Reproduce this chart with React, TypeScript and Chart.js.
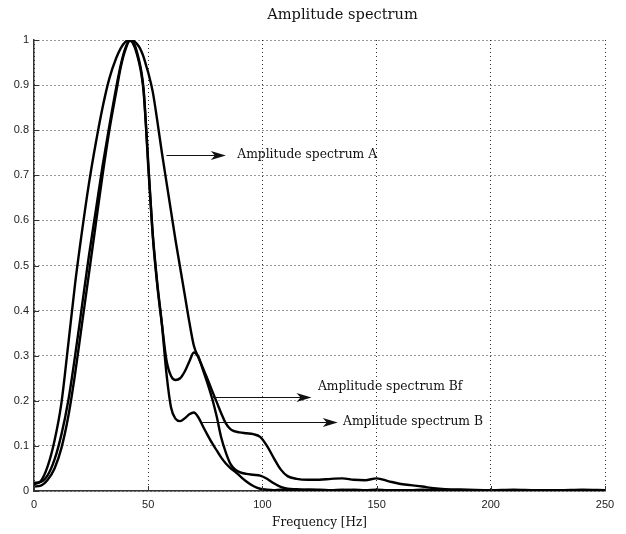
import React, { useEffect, useRef } from 'react';
import { Chart, registerables } from 'chart.js';

Chart.register(...registerables);

// Frequency grid [Hz]
const freq = [
  0, 3, 6, 9, 12, 15, 18, 21, 24, 27, 30, 33, 36,
  38, 40, 42, 44, 46, 47, 48, 49, 50,
  52, 54, 56, 58, 60,
  62, 64, 66, 68, 70, 72, 74, 76, 78, 80, 82, 84, 86, 88, 90,
  93, 96, 99, 102, 105, 108, 111, 115,
  120, 125, 130, 135, 140, 145, 150, 155, 160, 165, 170, 175, 180,
  190, 200, 210, 220, 230, 240, 250,
];

// Amplitude spectrum A
const specA = [
  0.015, 0.022, 0.055, 0.112, 0.195, 0.325, 0.46, 0.575, 0.68, 0.77, 0.85, 0.915, 0.96,
  0.982, 0.996, 1.0, 0.997, 0.985, 0.975, 0.962, 0.945, 0.928,
  0.885, 0.82, 0.75, 0.685, 0.62,
  0.555, 0.495, 0.435, 0.375, 0.322, 0.296, 0.272, 0.248, 0.222, 0.197, 0.172, 0.15, 0.137, 0.132, 0.13,
  0.128, 0.126, 0.12, 0.1, 0.073, 0.048, 0.033, 0.027,
  0.025, 0.025, 0.027, 0.028, 0.025, 0.024, 0.028, 0.022, 0.016, 0.013, 0.01, 0.006, 0.004,
  0.003, 0.002, 0.003, 0.002, 0.002, 0.003, 0.002,
];

// Amplitude spectrum Bf
const specBf = [
  0.018, 0.02, 0.035, 0.07, 0.125, 0.2, 0.3, 0.41, 0.52, 0.62, 0.72, 0.81, 0.895,
  0.945, 0.982, 1.0, 0.985, 0.95, 0.925, 0.885, 0.81, 0.72,
  0.565, 0.455, 0.37, 0.29, 0.255,
  0.246, 0.25, 0.265, 0.287, 0.307, 0.297, 0.268, 0.238, 0.205, 0.165, 0.118, 0.085, 0.06, 0.048, 0.042,
  0.038, 0.036, 0.034, 0.027, 0.017, 0.009, 0.005, 0.004,
  0.003, 0.003, 0.002, 0.003, 0.002, 0.002, 0.003, 0.002, 0.002, 0.002, 0.003, 0.002, 0.002,
  0.002, 0.002, 0.002, 0.002, 0.002, 0.002, 0.002,
];

// Amplitude spectrum B
const specB = [
  0.01, 0.012, 0.025, 0.05, 0.095, 0.165, 0.26, 0.37, 0.48, 0.59, 0.7, 0.8, 0.885,
  0.94, 0.978, 0.998, 0.99, 0.955, 0.93, 0.89, 0.815, 0.73,
  0.57, 0.46, 0.37, 0.26, 0.185,
  0.16, 0.155, 0.161, 0.17, 0.174, 0.163, 0.143, 0.124, 0.106, 0.09, 0.074, 0.061, 0.051, 0.043, 0.034,
  0.021, 0.011, 0.005, 0.003, 0.002, 0.003, 0.002, 0.002,
  0.003, 0.002, 0.002, 0.002, 0.003, 0.002, 0.002, 0.002, 0.002, 0.002, 0.002, 0.002, 0.002,
  0.002, 0.002, 0.002, 0.002, 0.002, 0.002, 0.002,
];

const titleText = 'Amplitude spectrum';
const xTitle = 'Frequency [Hz]';

// Arrow annotations in data coordinates
const annotations = [
  { text: 'Amplitude spectrum A', x0: 58, x1: 84, y: 0.745, tx: 89, ty: 0.745 },
  { text: 'Amplitude spectrum Bf', x0: 78, x1: 121.5, y: 0.209, tx: 124.3, ty: 0.231 },
  { text: 'Amplitude spectrum B', x0: 73.5, x1: 133, y: 0.153, tx: 135.3, ty: 0.153 },
];

const SERIF = '"DejaVu Serif", "Liberation Serif", serif';
const SANS = '"Liberation Sans", Arial, sans-serif';

export default function App() {
  const ref = useRef<HTMLCanvasElement>(null);

  useEffect(() => {
    const canvas = ref.current;
    if (!canvas) return;

    const mk = (label: string, data: number[]) => ({
      label,
      data: freq.map((f, i) => ({ x: f, y: data[i] })),
      borderColor: '#000',
      borderWidth: 2.4,
      pointRadius: 0,
      fill: false,
      cubicInterpolationMode: 'monotone' as const,
    });

    const overlay = {
      id: 'overlay',
      afterDraw(chart: any) {
        const { ctx, chartArea } = chart;
        const xs = chart.scales.x;
        const ys = chart.scales.y;
        ctx.save();
        // inward tick marks
        ctx.strokeStyle = '#333';
        ctx.lineWidth = 1;
        ctx.beginPath();
        ys.ticks.forEach((t: any) => {
          const py = Math.round(ys.getPixelForValue(t.value)) + 0.5;
          ctx.moveTo(chartArea.left, py);
          ctx.lineTo(chartArea.left + 5, py);
        });
        xs.ticks.forEach((t: any) => {
          const px = Math.round(xs.getPixelForValue(t.value)) + 0.5;
          ctx.moveTo(px, chartArea.bottom);
          ctx.lineTo(px, chartArea.bottom - 5);
        });
        ctx.stroke();

        // title
        ctx.fillStyle = '#111';
        ctx.font = '14.6px ' + SERIF;
        ctx.textAlign = 'center';
        ctx.textBaseline = 'middle';
        ctx.fillText(titleText, (chartArea.left + chartArea.right) / 2 + 23, 15);

        // annotations
        ctx.font = '12.3px ' + SERIF;
        ctx.textAlign = 'left';
        annotations.forEach((a) => {
          const x0 = xs.getPixelForValue(a.x0);
          const x1 = xs.getPixelForValue(a.x1);
          const py = Math.round(ys.getPixelForValue(a.y)) + 0.5;
          ctx.strokeStyle = '#111';
          ctx.lineWidth = 1;
          ctx.beginPath();
          ctx.moveTo(x0, py);
          ctx.lineTo(x1 - 6, py);
          ctx.stroke();
          ctx.fillStyle = '#111';
          ctx.beginPath();
          ctx.moveTo(x1, py);
          ctx.lineTo(x1 - 15, py - 4.5);
          ctx.lineTo(x1 - 11, py);
          ctx.lineTo(x1 - 15, py + 4.5);
          ctx.closePath();
          ctx.fill();
          ctx.fillText(a.text, xs.getPixelForValue(a.tx), ys.getPixelForValue(a.ty));
        });
        ctx.restore();
      },
    };

    const chart = new Chart(canvas, {
      type: 'line',
      data: {
        datasets: [mk('Amplitude spectrum A', specA), mk('Amplitude spectrum Bf', specBf), mk('Amplitude spectrum B', specB)],
      },
      options: {
        animation: false,
        responsive: false,
        devicePixelRatio: 1,
        layout: { padding: { top: 40, right: 21, left: 0, bottom: 0 } },
        plugins: {
          legend: { display: false },
          title: { display: false },
          tooltip: { enabled: false },
        },
        scales: {
          x: {
            type: 'linear',
            min: 0,
            max: 250,
            ticks: {
              stepSize: 50,
              padding: 7,
              color: '#222',
              font: { family: SANS, size: 11 },
              maxRotation: 0,
            },
            grid: { color: 'rgba(0,0,0,0.8)', lineWidth: 1, drawTicks: false },
            border: { display: true, color: '#333', width: 1.5, dash: [1, 3] },
            title: {
              display: true,
              text: xTitle,
              color: '#111',
              font: { family: SERIF, size: 12 },
              padding: { top: 3, bottom: 4 },
            },
            afterFit: (s: any) => {
              s.height = 43;
            },
          },
          y: {
            type: 'linear',
            min: 0,
            max: 1,
            ticks: {
              stepSize: 0.1,
              padding: 5,
              color: '#222',
              font: { family: SANS, size: 11 },
              callback: (v: any) => String(Math.round(Number(v) * 10) / 10),
            },
            grid: { color: 'rgba(0,0,0,0.8)', lineWidth: 1, drawTicks: false },
            border: { display: true, color: '#333', width: 1.5, dash: [1, 3] },
            afterFit: (s: any) => {
              s.width = 34;
            },
          },
        },
      },
      plugins: [overlay],
    } as any);

    return () => chart.destroy();
  }, []);

  return (
    <div style={{ position: 'absolute', left: 0, top: 0, width: 626, height: 534, background: '#fff' }}>
      <canvas ref={ref} width={626} height={534} style={{ display: 'block' }} />
    </div>
  );
}
